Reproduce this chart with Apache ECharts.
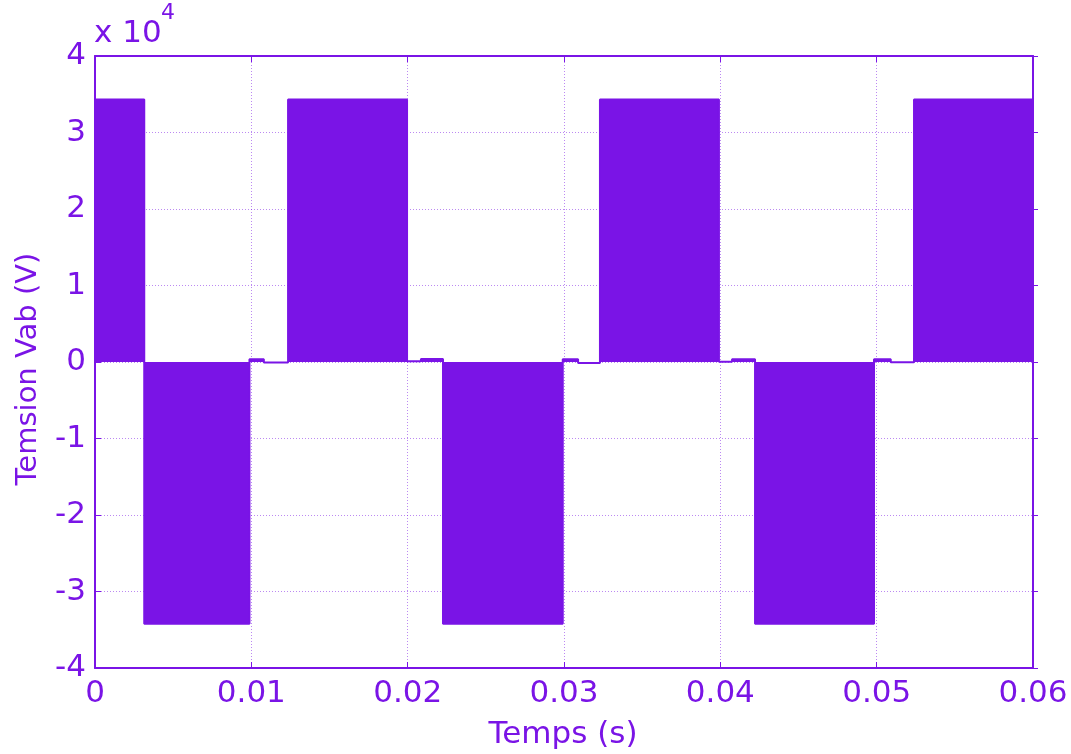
<!DOCTYPE html>
<html>
<head>
<meta charset="utf-8">
<script src="https://cdn.jsdelivr.net/npm/echarts@6/dist/echarts.min.js"></script>
<style>
html,body{margin:0;padding:0;background:#fff;}
#chart{width:1071px;height:754px;}
</style>
</head>
<body>
<div id="chart"></div>
<script>
// Time (s) and voltage (V) of the envelope of the PWM line voltage Vab
const timeS = [0, 0.00315, 0.00315, 0.00988, 0.00988, 0.0108, 0.0108, 0.01235, 0.01235, 0.01996,
  0.01996, 0.02085, 0.02085, 0.02226, 0.02226, 0.02992, 0.02992, 0.0309, 0.0309, 0.0323,
  0.0323, 0.03991, 0.03991, 0.04075, 0.04075, 0.04222, 0.04222, 0.04983, 0.04983, 0.0509,
  0.0509, 0.05239, 0.05239, 0.06];
const vabV = [34300, 34300, -34200, -34200, 350, 350, -50, -50, 34300, 34300,
  100, 100, 400, 400, -34200, -34200, 350, 350, -130, -130,
  34300, 34300, 40, 40, 350, 350, -34200, -34200, 350, 350,
  -40, -40, 34300, 34300];
const xTickLabels = ['0', '0.01', '0.02', '0.03', '0.04', '0.05', '0.06'];
const yTickLabels = ['-4', '-3', '-2', '-1', '0', '1', '2', '3', '4'];
const xTitle = 'Temps (s)';
const yTitle = 'Temsion Vab (V)';

const C = '#7A14E6';
const FONT = '"DejaVu Sans", "Liberation Sans", Arial, sans-serif';
const chart = echarts.init(document.getElementById('chart'), null, {renderer: 'canvas'});
const data = timeS.map((t, i) => [t, vabV[i]]);

const gridLine = {show: true, lineStyle: {color: 'rgba(122,20,230,0.5)', width: 1, type: [1, 2]}};
chart.setOption({
  animation: false,
  backgroundColor: '#fff',
  grid: {left: 95, right: 38, top: 56, bottom: 86, containLabel: false},
  xAxis: [{
    type: 'value', min: 0, max: 0.06, interval: 0.01,
    axisLine: {show: true, onZero: false, lineStyle: {color: C, width: 2}},
    axisTick: {show: true, inside: true, length: 6, lineStyle: {color: C, width: 1}},
    axisLabel: {color: C, fontSize: 31, fontFamily: FONT, margin: 10,
      formatter: (v) => xTickLabels[Math.round(v / 0.01)]},
    splitLine: gridLine
  }, {
    type: 'value', min: 0, max: 0.06, interval: 0.01, position: 'top',
    axisLine: {show: true, onZero: false, lineStyle: {color: C, width: 2}},
    axisTick: {show: true, inside: true, length: 6, lineStyle: {color: C, width: 1}},
    axisLabel: {show: false}, splitLine: {show: false}
  }],
  yAxis: [{
    type: 'value', min: -40000, max: 40000, interval: 10000,
    axisLine: {show: true, onZero: false, lineStyle: {color: C, width: 2}},
    axisTick: {show: true, inside: true, length: 6, lineStyle: {color: C, width: 1}},
    axisLabel: {color: C, fontSize: 31, fontFamily: FONT, margin: 9,
      formatter: (v) => yTickLabels[Math.round((v + 40000) / 10000)]},
    splitLine: gridLine
  }, {
    type: 'value', min: -40000, max: 40000, interval: 10000, position: 'right',
    axisLine: {show: true, onZero: false, lineStyle: {color: C, width: 2}},
    axisTick: {show: true, inside: false, length: 5, lineStyle: {color: C, width: 1}},
    axisLabel: {show: false}, splitLine: {show: false}
  }],
  series: [{
    type: 'line', data: data, xAxisIndex: 0, yAxisIndex: 0,
    showSymbol: false, symbol: 'none', clip: true,
    lineStyle: {color: C, width: 2},
    areaStyle: {color: C, opacity: 1, origin: 0}
  }],
  graphic: [
    {type: 'text', left: 94, top: 18, style: {text: 'x 10', fill: C, font: '31px ' + FONT}},
    {type: 'text', left: 161, top: 2, style: {text: '4', fill: C, font: '22px ' + FONT}},
    {type: 'text', x: 563, y: 735, style: {text: xTitle, fill: C, font: '31px ' + FONT, align: 'center', verticalAlign: 'middle'}},
    {type: 'text', x: 28, y: 369, rotation: Math.PI / 2, style: {text: yTitle, fill: C, font: '29px ' + FONT, align: 'center', verticalAlign: 'middle'}}
  ]
});
</script>
</body>
</html>
